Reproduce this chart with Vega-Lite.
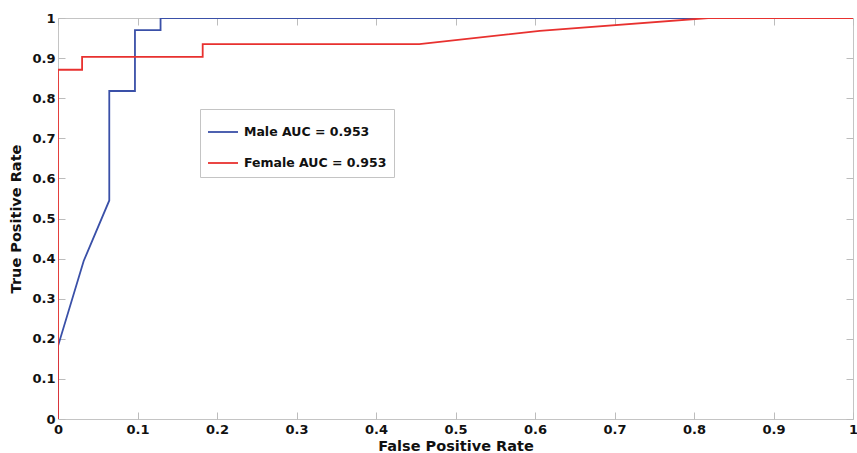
{
  "$schema": "https://vega.github.io/schema/vega-lite/v6.json",
  "width": 795,
  "height": 401,
  "autosize": "none",
  "padding": {"left": 58, "top": 18, "right": 4, "bottom": 34},
  "background": "white",
  "config": {
    "view": {"stroke": "#c4c4c4", "strokeWidth": 1},
    "font": "DejaVu Sans",
    "axis": {
      "grid": false,
      "domain": false,
      "labelFontWeight": "bold",
      "labelFontSize": 13,
      "labelColor": "#111111",
      "labelFlush": false,
      "titleFontWeight": "bold",
      "titleFontSize": 14.5,
      "titleColor": "#111111"
    }
  },
  "data": {
    "values": [
      {"series": "Male AUC = 0.953", "i": 0, "fpr": 0, "tpr": 0},
      {"series": "Male AUC = 0.953", "i": 1, "fpr": 0, "tpr": 0.182},
      {"series": "Male AUC = 0.953", "i": 2, "fpr": 0.0323, "tpr": 0.394},
      {"series": "Male AUC = 0.953", "i": 3, "fpr": 0.0645, "tpr": 0.545},
      {"series": "Male AUC = 0.953", "i": 4, "fpr": 0.0645, "tpr": 0.818},
      {"series": "Male AUC = 0.953", "i": 5, "fpr": 0.0968, "tpr": 0.818},
      {"series": "Male AUC = 0.953", "i": 6, "fpr": 0.0968, "tpr": 0.970},
      {"series": "Male AUC = 0.953", "i": 7, "fpr": 0.129, "tpr": 0.970},
      {"series": "Male AUC = 0.953", "i": 8, "fpr": 0.129, "tpr": 1},
      {"series": "Male AUC = 0.953", "i": 9, "fpr": 1, "tpr": 1},
      {"series": "Female AUC = 0.953", "i": 0, "fpr": 0, "tpr": 0},
      {"series": "Female AUC = 0.953", "i": 1, "fpr": 0, "tpr": 0.871},
      {"series": "Female AUC = 0.953", "i": 2, "fpr": 0.0303, "tpr": 0.871},
      {"series": "Female AUC = 0.953", "i": 3, "fpr": 0.0303, "tpr": 0.903},
      {"series": "Female AUC = 0.953", "i": 4, "fpr": 0.182, "tpr": 0.903},
      {"series": "Female AUC = 0.953", "i": 5, "fpr": 0.182, "tpr": 0.935},
      {"series": "Female AUC = 0.953", "i": 6, "fpr": 0.4545, "tpr": 0.935},
      {"series": "Female AUC = 0.953", "i": 7, "fpr": 0.606, "tpr": 0.968},
      {"series": "Female AUC = 0.953", "i": 8, "fpr": 0.818, "tpr": 1},
      {"series": "Female AUC = 0.953", "i": 9, "fpr": 1, "tpr": 1}
    ]
  },
  "layer": [
    {
      "mark": {"type": "line", "strokeWidth": 1.8, "clip": true},
      "encoding": {
        "x": {
          "field": "fpr", "type": "quantitative",
          "scale": {"domain": [0, 1], "nice": false},
          "axis": {"orient": "bottom", "title": "False Positive Rate", "values": [0,0.1,0.2,0.3,0.4,0.5,0.6,0.7,0.8,0.9,1], "format": "~g", "ticks": true, "tickSize": 7, "tickColor": "#bcbcbc", "tickWidth": 1, "offset": -7, "labelPadding": 4, "titlePadding": 3}
        },
        "y": {
          "field": "tpr", "type": "quantitative",
          "scale": {"domain": [0, 1], "nice": false},
          "axis": {"orient": "left", "title": "True Positive Rate", "values": [0,0.1,0.2,0.3,0.4,0.5,0.6,0.7,0.8,0.9,1], "format": "~g", "ticks": true, "tickSize": 7, "tickColor": "#bcbcbc", "tickWidth": 1, "offset": -7, "labelPadding": 3, "titlePadding": 8}
        },
        "order": {"field": "i", "type": "quantitative"},
        "color": {
          "field": "series", "type": "nominal",
          "scale": {"domain": ["Male AUC = 0.953", "Female AUC = 0.953"], "range": ["#3a50a8", "#e8312f"]},
          "legend": {
            "title": null,
            "orient": "none",
            "legendX": 142,
            "legendY": 91,
            "padding": 7,
            "strokeColor": "#c4c4c4",
            "fillColor": "white",
            "symbolType": "stroke",
            "symbolSize": 900,
            "symbolStrokeWidth": 1.8,
            "labelFontSize": 12.5,
            "labelFontWeight": "bold",
            "labelColor": "#111111",
            "labelOffset": 5,
            "rowPadding": 8
          }
        }
      }
    },
    {
      "mark": {"type": "point", "opacity": 0},
      "encoding": {
        "x": {
          "field": "fpr", "type": "quantitative",
          "axis": {"orient": "top", "title": null, "labels": false, "ticks": true, "tickSize": 7, "offset": -7, "tickColor": "#bcbcbc", "tickWidth": 1, "values": [0,0.1,0.2,0.3,0.4,0.5,0.6,0.7,0.8,0.9,1]}
        },
        "y": {
          "field": "tpr", "type": "quantitative",
          "axis": {"orient": "right", "title": null, "labels": false, "ticks": true, "tickSize": 7, "offset": -7, "tickColor": "#bcbcbc", "tickWidth": 1, "values": [0,0.1,0.2,0.3,0.4,0.5,0.6,0.7,0.8,0.9,1]}
        }
      }
    }
  ],
  "resolve": {"axis": {"x": "independent", "y": "independent"}}
}
